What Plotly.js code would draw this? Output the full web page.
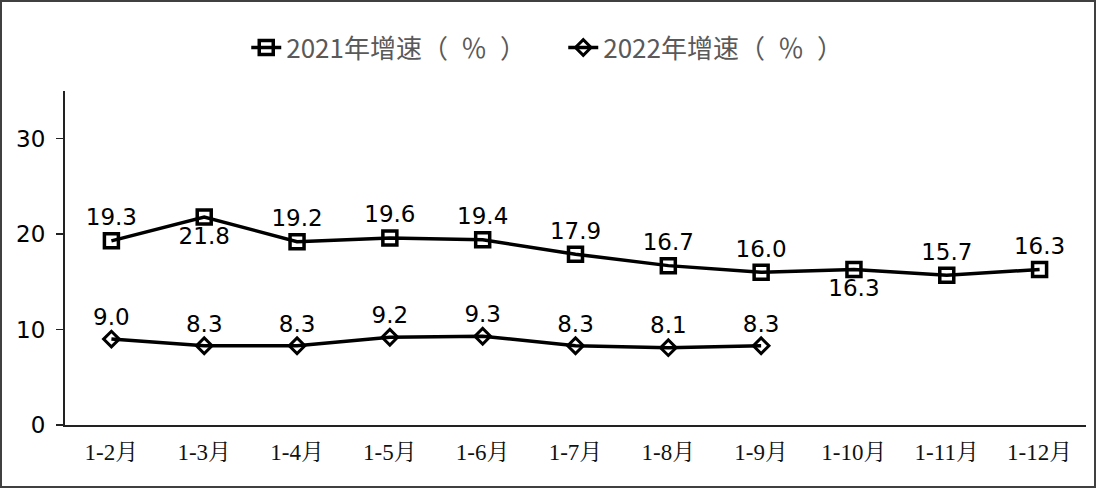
<!DOCTYPE html>
<html><head><meta charset="utf-8">
<script src="https://cdn.plot.ly/plotly-3.0.1.min.js"></script>
<style>
html,body{margin:0;padding:0;background:#fff;}
#wrap{position:relative;width:1096px;height:488px;}
#frame{position:absolute;left:0;top:0;width:1092px;height:484px;border:2px solid #404040;pointer-events:none;}
</style></head>
<body><div id="wrap"><div id="chart" style="width:1096px;height:488px;"></div><div id="frame"></div></div>
<script>
const categories = ["1-2月","1-3月","1-4月","1-5月","1-6月","1-7月","1-8月","1-9月","1-10月","1-11月","1-12月"];
const growth2021 = [19.3,21.8,19.2,19.6,19.4,17.9,16.7,16.0,16.3,15.7,16.3];
const growth2022 = [9.0,8.3,8.3,9.2,9.3,8.3,8.1,8.3];
const labelPos2021 = ["top center","bottom center","top center","top center","top center","top center","top center","top center","bottom center","top center","top center"];
const seriesNames = ["2021年增速（\u2002％\u2002）","2022年增速（\u2002％\u2002）"];

const labelFont = {family:"DejaVu Sans, Verdana, sans-serif", size:23, color:"#000"};

const traces = [
 {x:categories, y:growth2021, name:seriesNames[0], type:"scatter", mode:"lines+markers+text",
  line:{color:"#000", width:3.5},
  marker:{symbol:"square-open", size:14, color:"#000", line:{width:3.5, color:"#000"}},
  text:growth2021.map(v=>v.toFixed(1)), textposition:labelPos2021, textfont:labelFont, cliponaxis:false},
 {x:categories.slice(0,growth2022.length), y:growth2022, name:seriesNames[1], type:"scatter", mode:"lines+markers+text",
  line:{color:"#000", width:3.5},
  marker:{symbol:"diamond-open", size:12, color:"#000", line:{width:3, color:"#000"}},
  text:growth2022.map(v=>v.toFixed(1)), textposition:"top center", textfont:labelFont, cliponaxis:false}
];

const layout = {
 width:1096, height:488,
 margin:{l:65, r:10, t:91, b:63},
 paper_bgcolor:"#fff", plot_bgcolor:"#fff",
 showlegend:true,
 legend:{orientation:"h", x:0.488, xanchor:"center", y:1.13, yanchor:"middle",
   font:{family:"Noto Sans CJK SC, sans-serif", size:26, color:"#595959"}, itemwidth:30,
   entrywidth:272, entrywidthmode:"pixels"},
 xaxis:{type:"category", categoryorder:"array", categoryarray:categories, range:[-0.5,10.5],
   showline:true, linecolor:"#222", linewidth:2, showgrid:false, zeroline:false, ticks:"",
   ticklabelstandoff:5,
   tickfont:{family:"Liberation Serif, Noto Serif CJK SC, serif", size:23, color:"#111"}},
 yaxis:{range:[0,35], tickvals:[0,10,20,30], showline:true, linecolor:"#222", linewidth:2,
   showgrid:false, zeroline:false, ticks:"outside", ticklen:7, tickcolor:"#222", tickwidth:1.5,
   ticklabelstandoff:6,
   tickfont:{family:"DejaVu Sans, Verdana, sans-serif", size:23, color:"#000"}}
};
Plotly.newPlot("chart", traces, layout, {displayModeBar:false, staticPlot:true});
</script></body></html>
